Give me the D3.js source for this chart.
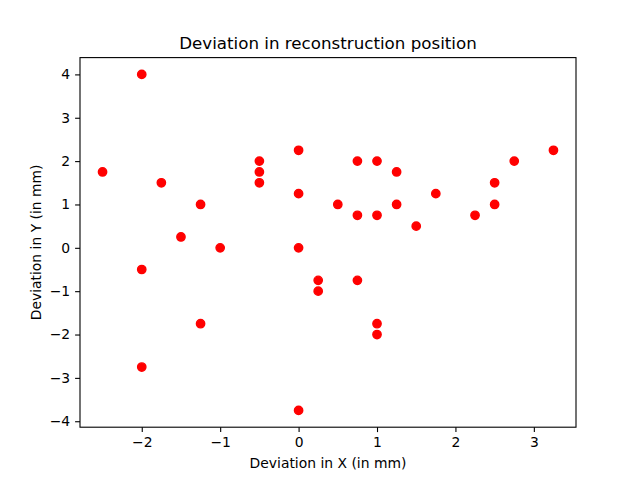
<!DOCTYPE html>
<html><head><meta charset="utf-8">
<script src="https://cdn.jsdelivr.net/npm/d3@7"></script>
<style>body{margin:0;background:#fff}svg{display:block}text{font-family:"DejaVu Sans",sans-serif}</style>
</head><body>
<script>
const xValues=[-2.5,-2,-1.75,-1.25,-1.5,-1,-2,-1.25,-2,-0.5,-0.5,-0.5,0,0,0,0,0.25,0.25,0.5,0.75,0.75,0.75,1,1,1,1,1.25,1.25,1.5,1.75,2.25,2.5,2.5,2.75,3.25];
const yValues=[1.75,4,1.5,1,0.25,0,-0.5,-1.75,-2.75,2,1.75,1.5,2.25,1.25,0,-3.75,-0.75,-1,1,2,0.75,-0.75,2,0.75,-1.75,-2,1.75,1,0.5,1.25,0.75,1.5,1,2,2.25];
const xTicks=[-2,-1,0,1,2,3];
const yTicks=[-4,-3,-2,-1,0,1,2,3,4];
const W=640,H=480,L=80,R=576,T=57.6,B=427.2;
const svg=d3.select("body").append("svg").attr("width",W).attr("height",H);
const xmin=d3.min(xValues),xmax=d3.max(xValues),ymin=d3.min(yValues),ymax=d3.max(yValues);
const mx=(xmax-xmin)*0.05,my=(ymax-ymin)*0.05;
const x=d3.scaleLinear().domain([xmin-mx,xmax+mx]).range([L,R]);
const y=d3.scaleLinear().domain([ymin-my,ymax+my]).range([B,T]);
const fmt=d=>String(d).replace("-","\u2212");
svg.selectAll("circle").data(xValues).enter().append("circle")
 .attr("cx",(d)=>x(d)).attr("cy",(d,i)=>y(yValues[i])).attr("r",4.17)
 .attr("fill","#ff0000").attr("stroke","#ff0000").attr("stroke-width",1.4);
const xa=svg.append("g").attr("transform",`translate(0,${B})`).call(d3.axisBottom(x).tickValues(xTicks).tickFormat(fmt).tickSize(4.9).tickPadding(4.9));
const ya=svg.append("g").attr("transform",`translate(${L},0)`).call(d3.axisLeft(y).tickValues(yTicks).tickFormat(fmt).tickSize(4.9).tickPadding(4.9));
[xa,ya].forEach(a=>{a.select(".domain").remove();a.selectAll("line").attr("stroke","#000").attr("stroke-width",1.1);a.selectAll("text").attr("font-size","13.9px").attr("fill","#000").attr("font-family","DejaVu Sans");});
svg.append("rect").attr("x",L).attr("y",T).attr("width",R-L).attr("height",B-T).attr("fill","none").attr("stroke","#000").attr("stroke-width",1.1);
svg.append("text").attr("x",(L+R)/2).attr("y",T-8.3).attr("text-anchor","middle").attr("font-size","16.7px").text("Deviation in reconstruction position");
svg.append("text").attr("x",(L+R)/2).attr("y",468).attr("text-anchor","middle").attr("font-size","13.9px").text("Deviation in X (in mm)");
svg.append("text").attr("transform",`translate(41,${(T+B)/2}) rotate(-90)`).attr("text-anchor","middle").attr("font-size","13.9px").text("Deviation in Y (in mm)");
</script>
</body></html>
